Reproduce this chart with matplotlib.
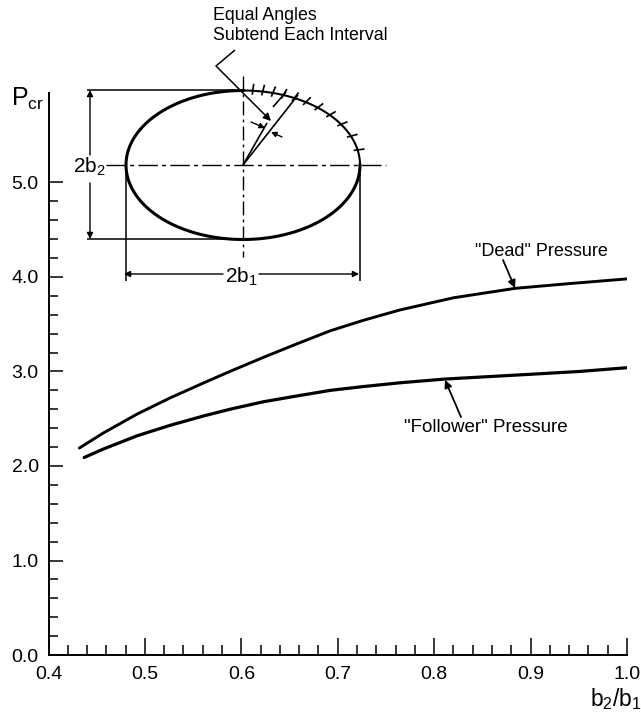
import numpy as np
import matplotlib
matplotlib.use("Agg")
import matplotlib.pyplot as plt
from matplotlib.ticker import FixedLocator, NullFormatter

plt.rcParams["font.family"] = ["Liberation Sans", "DejaVu Sans"]

# values
dead_x = [0.432, 0.457, 0.492, 0.526, 0.561, 0.588, 0.623, 0.657, 0.692, 0.726,
          0.764, 0.82, 0.884, 0.94, 1.0]
dead_y = [2.19, 2.35, 2.55, 2.72, 2.88, 3.00, 3.15, 3.29, 3.43, 3.54,
          3.65, 3.78, 3.88, 3.93, 3.98]
follower_x = [0.437, 0.457, 0.492, 0.526, 0.561, 0.588, 0.623, 0.657, 0.692, 0.726,
              0.764, 0.811, 0.899, 0.95, 1.0]
follower_y = [2.09, 2.18, 2.32, 2.43, 2.53, 2.60, 2.68, 2.74, 2.80, 2.84,
              2.88, 2.92, 2.97, 3.00, 3.04]
x_major = [0.4, 0.5, 0.6, 0.7, 0.8, 0.9, 1.0]
y_major = [0.0, 1.0, 2.0, 3.0, 4.0, 5.0]
x_labels = ["0.4", "0.5", "0.6", "0.7", "0.8", "0.9", "1.0"]
y_labels = ["0.0", "1.0", "2.0", "3.0", "4.0", "5.0"]
x_minor = [round(0.4 + 0.02 * i, 2) for i in range(31) if i % 5]
y_minor = [round(0.2 * i, 1) for i in range(26) if i % 5]
tick_angles = [82.5, 75, 67.5, 60, 52.5, 45, 37.5, 30, 22.5, 15, 7.5]

W, H = 641, 717
fig = plt.figure(figsize=(W / 100, H / 100), dpi=100)

# main axes, pixel box of the frame
left, right, top, bottom = 48.5, 627, 93, 655
ax = fig.add_axes([left / W, 1 - bottom / H, (right - left) / W, (bottom - top) / H])
ax.set_xlim(0.4, 1.0)
ax.set_ylim(0, (bottom - top) / 94.5)
for s in ["top", "right"]:
    ax.spines[s].set_visible(False)
for s in ["left", "bottom"]:
    ax.spines[s].set_linewidth(1.4)

ax.set_xticks(x_major)
ax.set_xticklabels(x_labels, fontsize=14)
ax.set_yticks(y_major)
ax.set_yticklabels(y_labels, fontsize=14)
ax.xaxis.set_minor_locator(FixedLocator(x_minor))
ax.yaxis.set_minor_locator(FixedLocator(y_minor))
ax.xaxis.set_minor_formatter(NullFormatter())
ax.yaxis.set_minor_formatter(NullFormatter())
ax.tick_params(axis="x", which="major", direction="in", length=12, width=1.1, pad=8)
ax.tick_params(axis="x", which="minor", direction="in", length=7.5, width=1.1)
ax.tick_params(axis="y", which="major", direction="in", length=10, width=1.1, pad=7)
ax.tick_params(axis="y", which="minor", direction="in", length=6.5, width=1.1)

ax.plot(dead_x, dead_y, color="black", lw=2.1, solid_capstyle="round")
ax.plot(follower_x, follower_y, color="black", lw=2.3, solid_capstyle="round")

# overlay in pixel coordinates for the sketch and callouts
ov = fig.add_axes([0, 0, 1, 1])
ov.set_xlim(0, W)
ov.set_ylim(H, 0)
ov.axis("off")
ov.patch.set_alpha(0)


def line(xs, ys, lw=1.0, **kw):
    ov.plot(xs, ys, color="black", lw=lw, solid_capstyle="butt", **kw)


def arrow(start, end, scale=10, lw=1.0):
    ov.annotate("", xy=end, xytext=start,
                arrowprops=dict(arrowstyle="-|>", color="black", lw=lw,
                                mutation_scale=scale, shrinkA=0, shrinkB=0))


cx, cy, a, b = 243, 165, 117, 74.5

t = np.radians(np.linspace(90, 360, 300))
ov.plot(cx + a * np.cos(t), cy - b * np.sin(t), color="black", lw=2.2)
t = np.radians(np.linspace(0, 90, 120))
ov.plot(cx + a * np.cos(t), cy - b * np.sin(t), color="black", lw=1.5)

# interval ticks at equal polar angles on the upper right
for ang in tick_angles:
    th = np.radians(ang)
    r = 1 / np.sqrt((np.cos(th) / a) ** 2 + (np.sin(th) / b) ** 2)
    r0, r1 = r - 4, r + 7
    line([cx + r0 * np.cos(th), cx + r1 * np.cos(th)],
         [cy - r0 * np.sin(th), cy - r1 * np.sin(th)], lw=1.2)

# centre lines
line([cx, cx], [76, 257], lw=1.0, linestyle=(0, (10, 3, 2, 3)))
line([106, 386], [cy, cy], lw=1.0, linestyle=(0, (14, 3, 3, 3)))

# wedge rays
line([cx, 267], [cy, 123], lw=1.2)
line([273, 286], [107, 92], lw=1.2)
line([cx, 298], [cy, 95], lw=1.2)

# small arrows onto the wedge
arrow((251, 122), (265, 128), scale=8)
arrow((282, 137), (271, 132), scale=8)

# leader from the label
line([235, 216, 222], [50, 66, 72], lw=1.1)
arrow((222, 72), (271, 121), scale=11, lw=1.1)

# dimension lines
line([87, cx], [90, 90], lw=1.1)
line([87, cx], [239, 239], lw=1.1)
line([126, 126], [165, 281], lw=1.1)
line([360, 360], [165, 281], lw=1.1)
arrow((90, 155), (90, 90), scale=9)
arrow((90, 183), (90, 239), scale=9)
arrow((223, 274), (124, 274), scale=9)
arrow((259, 274), (359, 274), scale=9)

ov.text(213, 15, "Equal Angles", fontsize=12.8, va="center", ha="left")
ov.text(213, 35, "Subtend Each Interval", fontsize=12.8, va="center", ha="left")
ov.text(73, 167, r"$\mathregular{2b_2}$", fontsize=15, va="center", ha="left")
ov.text(225, 277, r"$\mathregular{2b_1}$", fontsize=15, va="center", ha="left")
ov.text(11, 99, r"$\mathregular{P_{cr}}$", fontsize=18, va="center", ha="left")
ov.text(590, 699, r"$\mathregular{b_2/b_1}$", fontsize=16.5, va="center", ha="left")

ov.text(475, 252, '"Dead" Pressure', fontsize=13, va="center", ha="left")
arrow((503, 260), (515, 288), scale=11, lw=1.3)
ov.text(404, 427, '"Follower" Pressure', fontsize=13.5, va="center", ha="left")
arrow((461, 417), (445, 380), scale=11, lw=1.3)

fig.savefig("out.png", dpi=100)
